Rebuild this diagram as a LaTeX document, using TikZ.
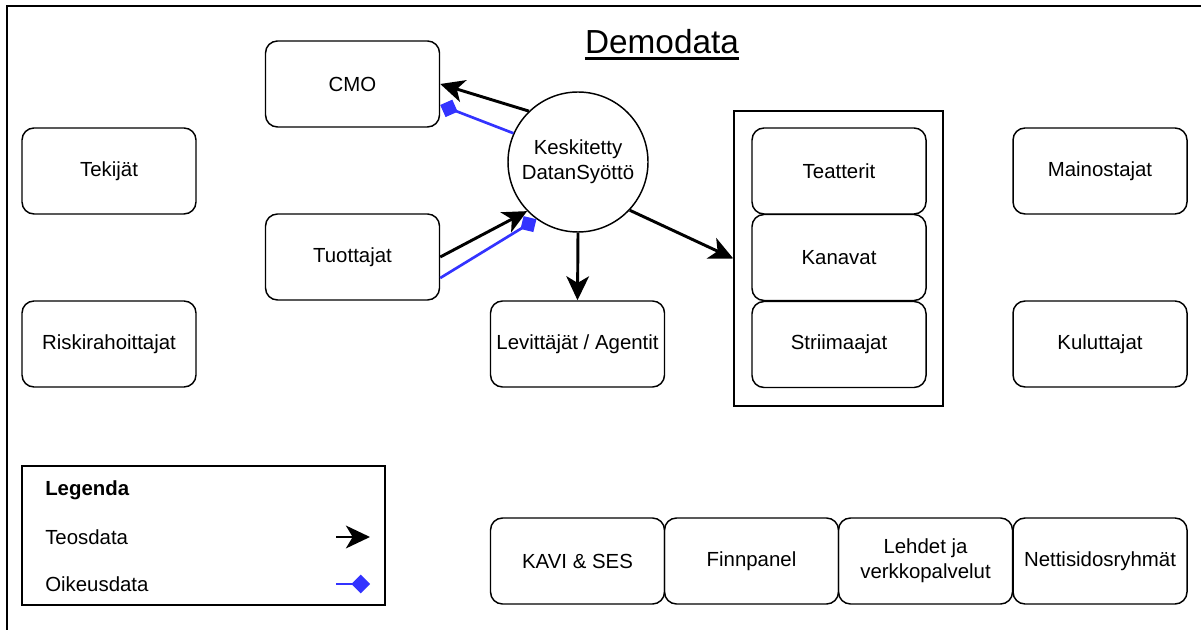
\documentclass[tikz,border=0pt]{standalone}
\usepackage{fontspec}
\setmainfont{Liberation Sans}
\usetikzlibrary{arrows.meta}
\definecolor{rightsblue}{RGB}{51,51,255}
\newcommand{\bodyfont}{\fontsize{15.3}{18.75}\selectfont}
\tikzset{
  box/.style={draw, rounded corners=9pt, minimum width=130.5pt, minimum height=64.5pt,
    line width=1.1pt, align=center, inner sep=2pt, font=\bodyfont},
  hub/.style={draw, circle, minimum size=105pt, inner sep=0pt, line width=1.1pt,
    align=center, font=\bodyfont},
  group/.style={draw, rectangle, line width=1.1pt, inner sep=0pt},
  label/.style={anchor=west, inner sep=0pt, font=\bodyfont},
  teos/.style={line width=2.2pt, -{Stealth[length=18pt, width=17pt, inset=5pt]}},
  oikeus/.style={line width=2pt, rightsblue, -{Diamond[length=14pt, width=14pt]}},
}
\begin{document}
\begin{tikzpicture}[x=0.75pt, y=-0.75pt]
  \useasboundingbox (0,0) rectangle (1201,630);
  \clip (0,0) rectangle (1201,630);
  % outer frame
  \draw[line width=1.6pt] (7,6) rectangle (1230,650);

  % title
  \node[anchor=base, inner sep=0pt, font=\fontsize{25}{30}\selectfont] (title) at (662,54) {Demodata};
  \draw[line width=2pt] ([yshift=-3.2pt]title.base west) -- ([yshift=-3.2pt]title.base east);

  % left column
  \node[box] (cmo) at (352.5,84) {CMO};
  \node[box] (tekijat) at (109,171) {Tekijät};
  \node[box] (tuottajat) at (352.5,257) {Tuottajat};
  \node[box] (riski) at (109,344) {Riskirahoittajat};

  % central hub
  \node[hub] (hub) at (578,162) {Keskitetty\\DatanSyöttö};
  \node[box] (lev) at (577.5,344) {Levittäjät / Agentit};

  % distribution group
  \node[group, minimum width=156.75pt, minimum height=221.25pt] (cont) at (838.5,258.5) {};
  \node[box] (teatterit) at (839,171) {Teatterit};
  \node[box] (kanavat) at (839,257.5) {Kanavat};
  \node[box] (striim) at (839,344.5) {Striimaajat};

  % right column
  \node[box] (mainos) at (1100,171) {Mainostajat};
  \node[box] (kulutt) at (1100,344) {Kuluttajat};

  % bottom row
  \node[box] (kavi) at (577.5,561) {KAVI \& SES};
  \node[box] (finn) at (751.5,561) {Finnpanel};
  \node[box] (lehdet) at (925.5,561) {Lehdet ja\\verkkopalvelut};
  \node[box] (netti) at (1100,561) {Nettisidosryhmät};

  % connectors
  \draw[teos] (hub.134) -- (cmo.east);
  \draw[oikeus] (hub.156) -- ([yshift=-15.75pt]cmo.east);
  \draw[teos] (tuottajat.east) -- (hub.224);
  \draw[oikeus] ([yshift=-15.75pt]tuottajat.east) -- (hub.234);
  \draw[teos] (hub.south) -- (lev.north);
  \draw[teos] (hub.-43) -- (cont.west);

  % legend
  \node[group, minimum width=272.25pt, minimum height=104.25pt] (legend) at (203.5,535.5) {};
  \node[label, font=\bodyfont\bfseries] (legtitle) at (45,490) {Legenda};
  \node[label] (legteos) at (45,537) {Teosdata};
  \node[label] (legoik) at (45,584) {Oikeusdata};
  \coordinate (ta) at (336,537);
  \coordinate (tb) at (370,537);
  \coordinate (oa) at (336,584);
  \coordinate (ob) at (370,584);
  \draw[teos] (ta) -- (tb);
  \draw[oikeus] (oa) -- (ob);
\end{tikzpicture}
\end{document}
